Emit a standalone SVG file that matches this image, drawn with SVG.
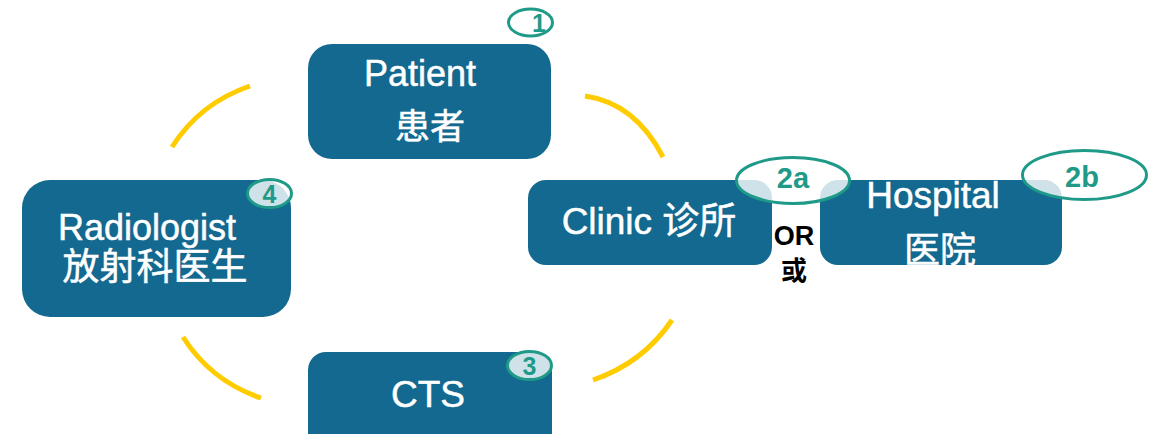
<svg xmlns="http://www.w3.org/2000/svg" width="1156" height="434" viewBox="0 0 1156 434">
<style>
.box{fill:#13698F}
.t{font-family:"Liberation Sans","Noto Sans CJK SC",sans-serif;fill:#ffffff;stroke:#ffffff;stroke-width:0.5;text-anchor:middle}
.arc{fill:none;stroke:#FFCC00;stroke-width:5}
.badge{fill:#ffffff;fill-opacity:0.8;stroke:#1F9A88;stroke-width:3}
.bt{font-family:"Liberation Sans",sans-serif;font-weight:bold;fill:#1F9A88;text-anchor:middle}
.or{font-family:"Liberation Sans","Noto Sans CJK SC",sans-serif;font-weight:bold;fill:#000000;text-anchor:middle}
</style>
<rect width="1156" height="434" fill="#ffffff"/>
<g id="connectors">
<path class="arc" d="M172,147 Q200,103 250,86"/>
<path class="arc" d="M585,96 Q635,103 663,157"/>
<path class="arc" d="M183,337 Q211,381 261,398"/>
<path class="arc" d="M593,380 Q643,363 672,320"/>
</g>
<g id="patient">
<rect class="box" x="308" y="44" width="243" height="115" rx="24"/>
<text class="t" x="420" y="86" font-size="36">Patient</text>
<text class="t" x="430" y="139" font-size="35">患者</text>
<ellipse class="badge" cx="530.5" cy="22.5" rx="22" ry="13.5"/>
<text class="bt" x="539" y="32" font-size="25" font-weight="normal">1</text>
</g>
<g id="clinic">
<rect class="box" x="528" y="180" width="244" height="85" rx="18"/>
<text class="t" x="649" y="234" font-size="37">Clinic 诊所</text>
</g>
<g id="hospital">
<rect class="box" x="820" y="180" width="242" height="85" rx="18"/>
<text class="t" x="933" y="208" font-size="37">Hospital</text>
<text class="t" x="940" y="263" font-size="36">医院</text>
</g>
<g id="badge2a">
<ellipse class="badge" cx="793" cy="180.5" rx="56.5" ry="23"/>
<text class="bt" x="793" y="188" font-size="29">2a</text>
</g>
<g id="badge2b">
<ellipse class="badge" cx="1084.5" cy="175" rx="62" ry="24.5"/>
<text class="bt" x="1082" y="187" font-size="29">2b</text>
</g>
<g id="or">
<text class="or" x="794" y="245" font-size="27">OR</text>
<text class="or" x="794" y="280" font-size="26">或</text>
</g>
<g id="radiologist">
<rect class="box" x="22" y="180" width="269" height="137" rx="28"/>
<text class="t" x="147" y="240" font-size="36">Radiologist</text>
<text class="t" x="155" y="280" font-size="37">放射科医生</text>
<ellipse class="badge" cx="269.5" cy="193.5" rx="22" ry="14"/>
<text class="bt" x="269.5" y="203" font-size="25">4</text>
</g>
<g id="cts">
<rect class="box" x="308" y="352" width="244" height="100" rx="18"/>
<text class="t" x="428" y="407" font-size="37">CTS</text>
<ellipse class="badge" cx="529.5" cy="365.5" rx="22" ry="14"/>
<text class="bt" x="529.5" y="375" font-size="25">3</text>
</g>
</svg>
